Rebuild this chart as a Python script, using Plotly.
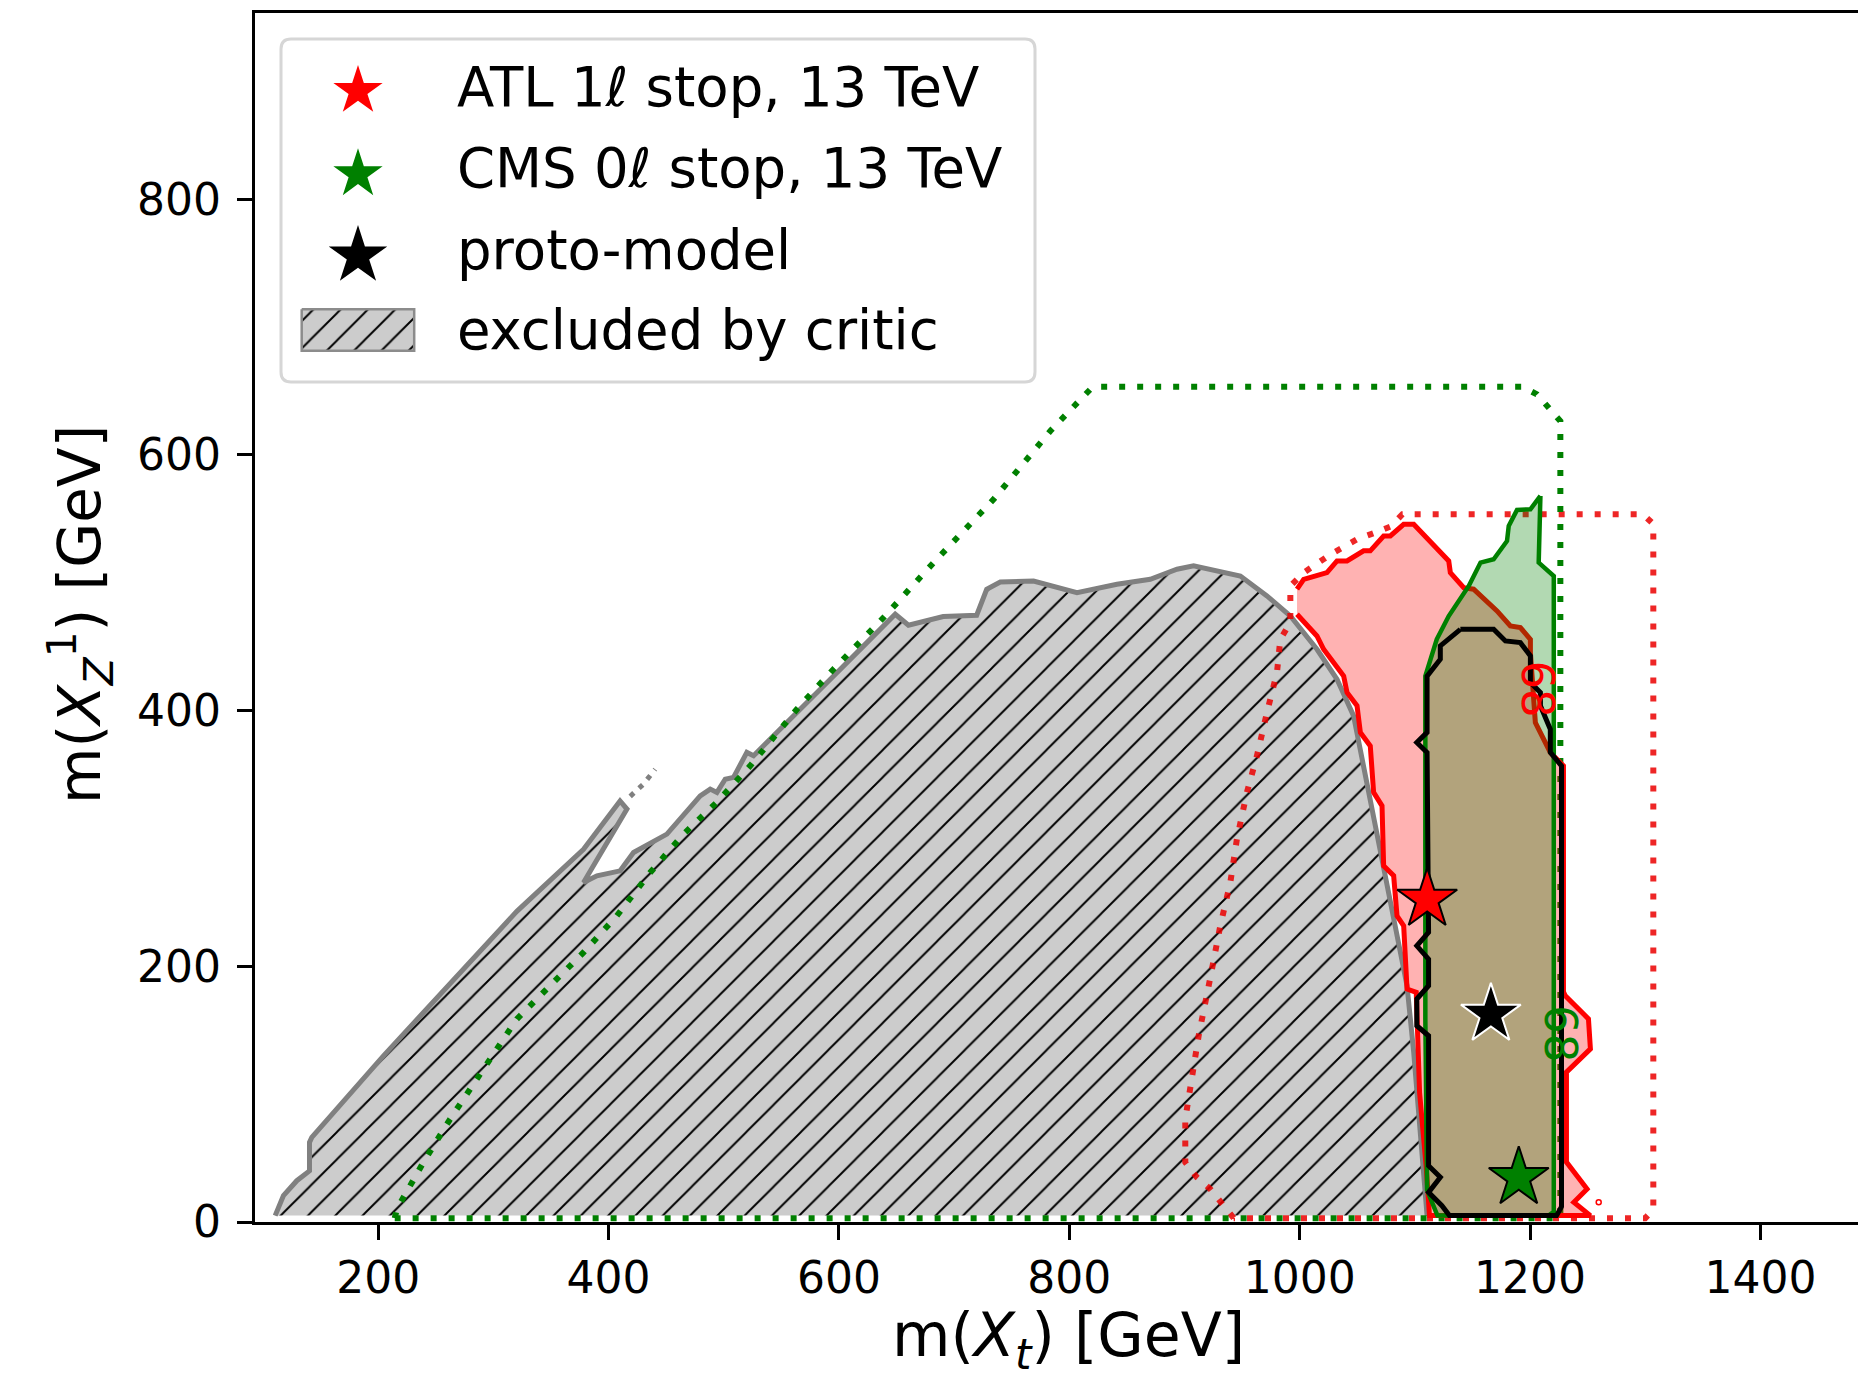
import plotly.graph_objects as go

# ------------------------------------------------------------------ data (GeV)
# region excluded by the critic (upper boundary, then closed along the bottom)
grey_x = [110.6, 117.8, 129.4, 140.4, 140.4, 142.4, 204.6, 262.5, 320.4, 378.3, 410.0, 416.0,
          378.3, 389.9, 410.1, 421.7, 450.7, 479.6, 488.3, 494.1, 501.3, 508.5, 514.3, 520.1,
          525.9, 531.7, 563.5, 595.4, 624.3, 648.9, 660.4, 690.6, 719.6, 728.3, 740.1, 769.0,
          806.7, 841.4, 870.3, 893.5, 907.9, 922.4, 948.5, 971.6, 991.9, 1015.0, 1032.4, 1046.8,
          1055.5, 1064.2, 1072.9, 1081.6, 1090.3, 1093.2, 1099.0, 1103.3, 1107.6, 1110.6, 110.6]
grey_y = [5.0, 20.6, 32.3, 40.0, 62.3, 66.2, 130.0, 187.0, 243.0, 291.6, 329.4, 323.0,
          265.6, 270.8, 274.7, 289.0, 303.4, 333.3, 338.6, 336.0, 346.3, 347.8, 356.9, 367.3,
          364.7, 369.8, 398.5, 427.1, 453.2, 475.4, 466.8, 473.6, 474.6, 494.9, 500.6, 501.4,
          492.3, 498.8, 502.7, 510.6, 513.2, 510.6, 505.3, 489.7, 474.0, 448.0, 424.5, 395.9,
          356.8, 317.7, 278.6, 239.5, 200.4, 184.8, 132.7, 80.5, 36.2, 5.0, 5.0]
# small broken piece of the critic contour near the spike
grey_frag_x = [418.8, 430.4, 440.5]
grey_frag_y = [333.0, 342.6, 354.1]

# ATLAS 1l stop 68% region
red_x = [997.7, 1003.5, 1023.7, 1032.4, 1041.1, 1055.5, 1061.3, 1072.9, 1078.7, 1090.3, 1099.0,
         1129.4, 1130.8, 1142.4, 1151.0, 1171.3, 1182.9, 1191.6, 1200.3, 1200.3, 1204.6, 1209.0,
         1217.6, 1229.0, 1229.0, 1230.6, 1250.7, 1252.4, 1231.6, 1231.6, 1249.5, 1238.0, 1252.4,
         1112.7, 1110.0, 1104.1, 1101.2, 1093.2, 1090.3, 1084.5, 1081.6, 1072.9, 1071.5, 1064.2,
         1061.3, 1052.7, 1049.8, 1041.1, 1038.2, 1020.8, 1015.0, 997.7]
red_y = [495.0, 502.7, 508.0, 517.1, 517.1, 525.0, 525.0, 536.6, 536.6, 545.7, 545.7,
         517.1, 508.0, 496.2, 495.0, 478.0, 466.2, 465.0, 455.8, 445.4, 390.7, 382.9,
         367.3, 356.8, 180.0, 177.0, 158.9, 135.4, 117.2, 46.9, 25.8, 15.4, 5.0,
         5.0, 41.4, 101.4, 179.6, 182.2, 231.7, 239.5, 270.9, 278.6, 325.5, 336.0,
         372.4, 382.9, 403.8, 414.2, 427.0, 448.0, 458.4, 475.4]
red_island_x = [1259.6]
red_island_y = [15.4]

# CMS 0l stop 68% region
green_x = [1209.0, 1207.5, 1220.6, 1220.6, 1216.0, 1119.6, 1110.6, 1109.1, 1109.1, 1119.0,
           1129.4, 1146.8, 1157.0, 1168.4, 1180.0, 1181.5, 1188.7, 1200.3, 1209.0]
green_y = [568.0, 515.8, 505.3, 8.0, 5.0, 5.0, 25.0, 158.7, 427.0, 455.8,
           474.0, 497.5, 515.8, 518.4, 532.7, 544.4, 557.0, 557.5, 568.0]

# combined (proto-model) 68% contour
black_x = [1139.5, 1168.4, 1178.6, 1191.6, 1200.3, 1200.3, 1209.0, 1209.0, 1217.6, 1217.6,
           1227.3, 1227.3, 1223.0, 1130.0, 1123.5, 1111.9, 1122.1, 1111.9, 1111.9, 1101.7,
           1101.7, 1111.9, 1111.9, 1101.7, 1111.9, 1110.6, 1101.7, 1110.6, 1110.6, 1122.1,
           1122.1, 1139.5]
black_y = [463.6, 463.6, 454.5, 453.2, 442.8, 422.0, 414.2, 403.8, 385.5, 367.3,
           356.8, 12.0, 5.0, 5.0, 12.8, 23.2, 35.0, 44.0, 145.7, 153.5,
           174.4, 184.8, 205.6, 216.0, 226.5, 367.3, 375.1, 383.0, 427.0, 440.2,
           450.6, 463.6]

# dotted contours
rdot_x = [942.7, 922.4, 910.8, 900.7, 900.7, 905.1, 912.3, 922.4, 931.1, 939.8, 945.5, 954.2,
          962.9, 971.6, 980.3, 983.2, 991.9, 991.9, 1003.7, 1026.9, 1049.8, 1065.7, 1079.0,
          1089.2, 1298.0, 1307.0, 1307.0, 1300.0, 942.7]
rdot_y = [3.0, 25.8, 34.9, 46.7, 80.5, 106.6, 145.7, 191.0, 231.7, 265.6, 299.5, 336.0,
          364.6, 398.5, 429.8, 455.8, 469.0, 497.5, 508.0, 522.3, 534.0, 539.3, 544.0,
          553.6, 553.6, 546.0, 10.0, 3.0, 3.0]
gdot_x = [214.4, 216.2, 239.3, 262.5, 291.4, 320.4, 349.3, 378.3, 407.2, 436.2, 465.1, 494.1,
          523.0, 563.5, 595.3, 638.8, 682.2, 734.3, 783.5, 818.2, 823.0, 1193.2, 1206.0,
          1216.2, 1226.3, 1226.3, 214.4]
gdot_y = [3.0, 10.0, 46.7, 80.5, 119.6, 158.7, 184.8, 210.9, 239.5, 273.4, 303.4, 328.4,
          356.8, 401.1, 432.4, 472.8, 515.8, 565.3, 618.7, 651.3, 653.4, 653.4, 647.4,
          636.0, 626.5, 3.0, 3.0]

# best-fit points
star_names = ["ATL 1ℓ stop, 13 TeV", "proto-model", "CMS 0ℓ stop, 13 TeV"]
star_x = [1110.7, 1166.0, 1190.2]
star_y = [252.3, 162.4, 34.6]
star_colors = ["red", "black", "green"]
star_edges = ["black", "white", "black"]

# inline contour labels
lab68_text = ["68", "68"]
lab68_x = [1206.7, 1226.3]
lab68_y = [416.8, 147.5]
lab68_colors = ["red", "green"]

legend_labels = ["ATL 1ℓ stop, 13 TeV", "CMS 0ℓ stop, 13 TeV", "proto-model", "excluded by critic"]
legend_colors = ["red", "green", "black"]

x_ticks = [200, 400, 600, 800, 1000, 1200, 1400]
y_ticks = [0, 200, 400, 600, 800]

# ------------------------------------------------------------------ layout constants
W, H = 1858, 1383
ML, MR, MT, MB = 255, 0, 13, 161
X_RANGE = [93.1, 1484.7]
Y_RANGE = [0, 945.7]
FONT = "DejaVu Sans"
PLOT_W = W - ML - MR
PLOT_H = H - MT - MB

# legend geometry in pixel units of an overlay axis (x: left->right, y: top->down)
LEG_BOX = (281, 39, 1035, 382)
LEG_TEXT_X = 455.0
LEG_TEXT_Y = [86.7, 168.4, 250.0, 330.0]
LEG_SYM_X = 358
LEG_SYM_Y = [90.9, 174.2, 255.9]
LEG_SYM_SIZE = [37, 37, 44]
LEG_PATCH = (301.7, 309.3, 414.2, 350.7)

HATCH = dict(shape="/", size=19.3, solidity=0.1, fgcolor="black", bgcolor="#cccccc", fgopacity=1)


def px_to_paper(X, Y):
    return (X - ML) / PLOT_W, (H - MB - Y) / PLOT_H


fig = go.Figure()

# critic region: hatched fill, then its upper outline
fig.add_trace(go.Scatter(x=grey_x, y=grey_y, mode="lines", fill="toself", fillcolor="#cccccc",
                         fillpattern=HATCH, line=dict(width=0, color="rgba(0,0,0,0)"),
                         hoverinfo="skip", showlegend=False))
fig.add_trace(go.Scatter(x=grey_x[:-1], y=grey_y[:-1], mode="lines",
                         line=dict(color="#808080", width=5), hoverinfo="skip", showlegend=False))
fig.add_trace(go.Scatter(x=grey_frag_x, y=grey_frag_y, mode="lines",
                         line=dict(color="#808080", width=5, dash="5px,7px"),
                         hoverinfo="skip", showlegend=False))

# dotted contours
fig.add_trace(go.Scatter(x=rdot_x, y=rdot_y, mode="lines",
                         line=dict(color="rgba(235,0,0,0.85)", width=6, dash="6px,12px"),
                         hoverinfo="skip", showlegend=False))
fig.add_trace(go.Scatter(x=gdot_x, y=gdot_y, mode="lines",
                         line=dict(color="green", width=6, dash="6px,12px"),
                         hoverinfo="skip", showlegend=False))

# 68% regions
fig.add_trace(go.Scatter(x=red_x, y=red_y, mode="lines", fill="toself",
                         fillcolor="rgba(255,0,0,0.3)", line=dict(color="red", width=5),
                         hoverinfo="skip", showlegend=False))
fig.add_trace(go.Scatter(x=red_island_x, y=red_island_y, mode="markers",
                         marker=dict(symbol="circle-open", size=5, color="red", line=dict(width=1.5)),
                         hoverinfo="skip", showlegend=False))
fig.add_trace(go.Scatter(x=green_x, y=green_y, mode="lines", fill="toself",
                         fillcolor="rgba(0,128,0,0.3)", line=dict(color="green", width=4.5),
                         hoverinfo="skip", showlegend=False))
fig.add_trace(go.Scatter(x=black_x, y=black_y, mode="lines",
                         line=dict(color="black", width=5), hoverinfo="skip", showlegend=False))

# best-fit stars
fig.add_trace(go.Scatter(x=star_x, y=star_y, mode="markers", text=star_names,
                         marker=dict(symbol="star", size=45, color=star_colors, opacity=1,
                                     line=dict(color=star_edges, width=2)),
                         hoverinfo="text", showlegend=False))

# ------------------------------------------------------------------ hand-made legend
fig.add_trace(go.Scatter(x=[LEG_SYM_X] * 3, y=LEG_SYM_Y, mode="markers", xaxis="x2", yaxis="y2",
                         marker=dict(symbol="star", size=LEG_SYM_SIZE, color=legend_colors,
                                     opacity=1, line=dict(width=0)),
                         hoverinfo="skip", showlegend=False))
px0, py0, px1, py1 = LEG_PATCH
fig.add_trace(go.Scatter(x=[px0, px1, px1, px0, px0], y=[py0, py0, py1, py1, py0], mode="lines",
                         xaxis="x2", yaxis="y2", fill="toself", fillcolor="#cccccc",
                         fillpattern=HATCH, line=dict(color="#8c8c8c", width=2.5),
                         hoverinfo="skip", showlegend=False))

bx0, by0, bx1, by1 = LEG_BOX
r = 10
pts = [(bx0 + r, by0), (bx1 - r, by0), (bx1, by0), (bx1, by0 + r), (bx1, by1 - r), (bx1, by1),
       (bx1 - r, by1), (bx0 + r, by1), (bx0, by1), (bx0, by1 - r), (bx0, by0 + r), (bx0, by0)]
pp = [px_to_paper(*p) for p in pts]
fmt = lambda p: f"{p[0]:.5f},{p[1]:.5f}"
box_path = (f"M{fmt(pp[0])} L{fmt(pp[1])} Q{fmt(pp[2])} {fmt(pp[3])} L{fmt(pp[4])} "
            f"Q{fmt(pp[5])} {fmt(pp[6])} L{fmt(pp[7])} Q{fmt(pp[8])} {fmt(pp[9])} "
            f"L{fmt(pp[10])} Q{fmt(pp[11])} {fmt(pp[0])} Z")
fig.add_shape(type="path", path=box_path, xref="paper", yref="paper", layer="below",
              fillcolor="rgba(255,255,255,0.8)", line=dict(color="#d6d6d6", width=3))

annotations = []
for lab, ty in zip(legend_labels, LEG_TEXT_Y):
    annotations.append(dict(text=lab, x=LEG_TEXT_X, y=ty, xref="x2", yref="y2",
                            xanchor="left", yanchor="middle", showarrow=False,
                            font=dict(family=FONT, size=54.5, color="black")))
for t, lx, ly, c in zip(lab68_text, lab68_x, lab68_y, lab68_colors):
    annotations.append(dict(text=t, x=lx, y=ly, xref="x", yref="y", textangle=90,
                            showarrow=False, font=dict(family=FONT, size=45, color=c)))
# axis titles
tx, ty = px_to_paper(1068, 1381)
annotations.append(dict(text="m(<i>X</i><sub><i>t</i></sub>) [GeV]",
                        x=tx, y=ty, xref="paper", yref="paper", showarrow=False,
                        xanchor="center", yanchor="bottom",
                        font=dict(family=FONT, size=60, color="black")))
tx, ty = px_to_paper(80, 615)
annotations.append(dict(text="m(<i>X</i><sub><i>Z</i></sub><sup>1</sup>) [GeV]",
                        x=tx, y=ty, xref="paper", yref="paper", showarrow=False, textangle=-90,
                        xanchor="center", yanchor="middle",
                        font=dict(family=FONT, size=58, color="black")))

axis_common = dict(showgrid=False, zeroline=False, showline=True, linecolor="black",
                   linewidth=3.3, ticks="outside", ticklen=15, tickwidth=3.3,
                   tickcolor="black", tickfont=dict(family=FONT, size=44, color="black"))

fig.update_layout(
    width=W, height=H,
    margin=dict(l=ML, r=MR, t=MT, b=MB, pad=0),
    paper_bgcolor="white", plot_bgcolor="white",
    font=dict(family=FONT, color="black"),
    showlegend=False,
    xaxis=dict(range=X_RANGE, tickvals=x_ticks, mirror=True, ticklabelstandoff=0, **axis_common),
    yaxis=dict(range=Y_RANGE, tickvals=y_ticks, mirror=False, ticklabelstandoff=7, **axis_common),
    xaxis2=dict(range=[ML, W - MR], overlaying="x", anchor="y2", visible=False, fixedrange=True),
    yaxis2=dict(range=[H - MB, MT], overlaying="y", anchor="x2", visible=False, fixedrange=True),
    annotations=annotations,
)

fig.write_html("out.html")
